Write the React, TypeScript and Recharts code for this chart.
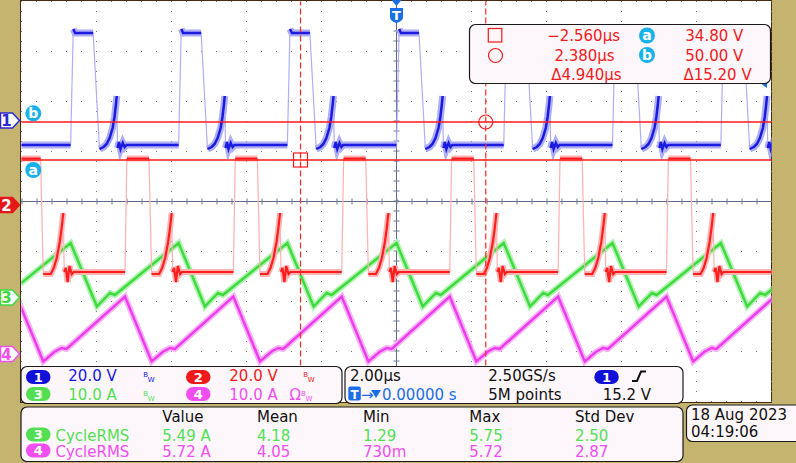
import React from "react";
import {
  ComposedChart,
  Line,
  XAxis,
  YAxis,
  CartesianGrid,
  ReferenceLine,
  ReferenceDot,
} from "recharts";

// Horizontal axis in µs (2.00 µs/div, trigger at 0); vertical in screen divisions (0 = centre line).
const TIME_TICKS = [-10, -8, -6, -4, -2, 0, 2, 4, 6, 8, 10];
const DIV_TICKS = [-4, -3, -2, -1, 0, 1, 2, 3, 4];

// rising edges (µs)
const CH1_EDGES = [-11.58, -8.69, -5.81, -2.91, 0, 2.86, 5.76, 8.65, 11.54];
const CH2_EDGES = [-13.02, -10.13, -7.24, -4.35, -1.46, 1.42, 4.31, 7.2, 10.09];

// one switching period: [µs after edge, level in div, 1 = noisy segment follows / 0 = fast edge follows]
const CH1_SHAPE = [
  [0, 1.13, 0],
  [0.07, 3.45, 1],
  [0.12, 3.37, 1],
  [0.6, 3.37, 0],
  [0.77, 1.05, 1],
  [0.88, 1.09, 1],
  [0.96, 1.15, 1],
  [1.04, 1.27, 1],
  [1.12, 1.47, 1],
  [1.17, 1.69, 1],
  [1.21, 1.95, 1],
  [1.23, 2.11, 0],
  [1.25, 1.07, 1],
  [1.29, 1.19, 1],
  [1.33, 1.05, 1],
  [1.39, 1.17, 1],
  [1.44, 1.09, 1],
  [1.49, 1.13, 1],
];
const CH2_SHAPE = [
  [0, -1.41, 0],
  [0.05, 0.86, 1],
  [0.64, 0.86, 0],
  [0.71, -1.45, 1],
  [0.91, -1.45, 1],
  [0.99, -1.33, 1],
  [1.07, -1.13, 1],
  [1.15, -0.81, 1],
  [1.2, -0.53, 1],
  [1.245, -0.23, 0],
  [1.27, -1.41, 1],
  [1.31, -1.33, 1],
  [1.36, -1.61, 1],
  [1.41, -1.29, 1],
  [1.47, -1.45, 1],
  [1.52, -1.41, 1],
];
// inductor currents, relative to the ch1 / ch2 edges
const CH3_SHAPE = [
  [0, -0.83],
  [0.7, -2.1],
  [1.05, -1.83],
  [1.18, -1.87],
];
const CH4_SHAPE = [
  [0, -1.9],
  [0.71, -3.2],
  [1.02, -3.0],
  [1.2, -2.93],
  [1.33, -2.95],
];

// cursors
const CURSOR_T1 = -2.56;
const CURSOR_T2 = 2.38;
const CURSOR_A = 0.83;
const CURSOR_B = 1.59;

type Pt = { t: number; v: number | null };

function pulseTrain(edges: number[], shape: number[][]) {
  const full: Pt[] = [];
  const body: Pt[] = [];
  edges.forEach((t0) => {
    shape.forEach(([dt, v, noisy], i) => {
      full.push({ t: t0 + dt, v });
      body.push({ t: t0 + dt, v });
      if (!noisy) body.push({ t: t0 + (dt + shape[i + 1][0]) / 2, v: null });
    });
  });
  return { full, body };
}

function ramp(edges: number[], shape: number[][]): Pt[] {
  return edges.flatMap((t0) => shape.map(([dt, v]) => ({ t: t0 + dt, v })));
}

const ch1 = pulseTrain(CH1_EDGES, CH1_SHAPE);
const ch2 = pulseTrain(CH2_EDGES, CH2_SHAPE);
const ch3 = ramp(CH1_EDGES, CH3_SHAPE);
const ch4 = ramp(CH2_EDGES, CH4_SHAPE);

const FONT = "'DejaVu Sans', sans-serif";
const BLUE = "#1616e4";
const RED = "#f01a1a";
const GREEN = "#52df52";
const MAG = "#f04ef0";
const CYAN = "#19b1ea";
const TRIG = "#1a6ee6";
const PANEL = "#fdf6fb";

const lineProps = { dot: false, activeDot: false, isAnimationActive: false, type: "linear" as const, dataKey: "v" };

function Pill({ x, y, fill, label }: { x: number; y: number; fill: string; label: string }) {
  return (
    <g>
      <rect x={x} y={y} width={24.5} height={14} rx={7} fill={fill} />
      <text x={x + 12.25} y={y + 11.5} textAnchor="middle" fill="#fff" fontSize={13} fontWeight="bold" fontFamily={FONT}>
        {label}
      </text>
    </g>
  );
}

function ChMarker({ y, label, fill, stroke, color }: { y: number; label: string; fill: string; stroke: string; color: string }) {
  return (
    <g>
      <polygon
        points={`0.5,${y - 7.5} 12.5,${y - 7.5} 19.5,${y} 12.5,${y + 7.5} 0.5,${y + 7.5}`}
        fill={fill}
        stroke={stroke}
        strokeWidth={1.5}
      />
      <text x={6.5} y={y + 5.5} textAnchor="middle" fill={color} fontSize={15} fontWeight="bold" fontFamily={FONT}>
        {label}
      </text>
    </g>
  );
}

function CursorTag({ cx, cy, label }: { cx: number; cy: number; label: string }) {
  return (
    <g>
      <circle cx={cx} cy={cy} r={8} fill={CYAN} />
      <text x={cx} y={cy + 4.5} textAnchor="middle" fill="#fff" fontSize={14} fontWeight="bold" fontFamily={FONT}>
        {label}
      </text>
    </g>
  );
}

// bandwidth-limit glyph, optionally preceded by Ω
function Bw({ x, y, color, ohm }: { x: number; y: number; color: string; ohm?: boolean }) {
  return (
    <text x={x} y={y} fill={color} fontFamily={FONT} fontSize={15}>
      {ohm ? "Ω" : ""}
      <tspan fontSize={7} dy={-4}>B</tspan>
      <tspan fontSize={7} dy={5}>W</tspan>
    </text>
  );
}

function T({ x, y, c, children, anchor }: { x: number; y: number; c: string; children: React.ReactNode; anchor?: "start" | "end" | "middle" }) {
  return (
    <text x={x} y={y} fill={c} fontSize={15} fontFamily={FONT} textAnchor={anchor ?? "start"}>
      {children}
    </text>
  );
}

export default function App() {
  return (
    <div style={{ position: "absolute", left: 0, top: 0, width: 796, height: 463, background: "#c5b470", overflow: "hidden" }}>
      <div
        style={{
          position: "absolute",
          left: 20,
          top: 0,
          width: 752,
          height: 403,
          boxSizing: "border-box",
          border: "1px solid #4a2a10",
          background: "#ffffff",
        }}
      />
      <div style={{ position: "absolute", left: 0, top: 0 }}>
        <ComposedChart width={796} height={463} margin={{ top: 1.5, right: 24.5, bottom: 61.5, left: 21.5 }}>
          <XAxis type="number" dataKey="t" domain={[-10, 10]} hide allowDataOverflow />
          <YAxis type="number" domain={[-4, 4]} hide allowDataOverflow />
          <CartesianGrid
            vertical={false}
            horizontalValues={DIV_TICKS}
            stroke="#6b7894"
            strokeDasharray="1 14"
            strokeDashoffset={0.5}
          />
          <CartesianGrid
            horizontal={false}
            verticalValues={TIME_TICKS}
            stroke="#6b7894"
            strokeDasharray="1 9"
            strokeDashoffset={0.5}
          />
          <ReferenceLine x={0} stroke="#5d6b8e" strokeWidth={1} />
          <ReferenceLine y={0} stroke="#5d6b8e" strokeWidth={1} />
          <ReferenceLine x={0} stroke="#6b7894" strokeWidth={6} strokeDasharray="1 9" />
          <ReferenceLine y={0} stroke="#6b7894" strokeWidth={6} strokeDasharray="1 14" />

          <Line {...lineProps} data={ch3} stroke="#b6f2b6" strokeWidth={6} />
          <Line {...lineProps} data={ch3} stroke="#3edc3e" strokeWidth={2.5} />
          <Line {...lineProps} data={ch4} stroke="#f6b6f6" strokeWidth={6} />
          <Line {...lineProps} data={ch4} stroke="#ee3cee" strokeWidth={2.5} />

          <Line {...lineProps} data={ch1.full} stroke="#aeaef6" strokeWidth={1.2} />
          <Line {...lineProps} data={ch1.body} stroke="#aeaef6" strokeWidth={7} />
          <Line {...lineProps} data={ch1.body} stroke="#1a1ae0" strokeWidth={2.5} />

          <Line {...lineProps} data={ch2.full} stroke="#ffb0b0" strokeWidth={1.2} />
          <Line {...lineProps} data={ch2.body} stroke="#ffb4b4" strokeWidth={6} />
          <Line {...lineProps} data={ch2.body} stroke="#ff1e1e" strokeWidth={2.2} />

          <ReferenceLine y={CURSOR_B} stroke="#ff1a1a" strokeWidth={1.3} />
          <ReferenceLine y={CURSOR_A} stroke="#ff1a1a" strokeWidth={1.3} />
          <ReferenceLine x={CURSOR_T1} stroke="#ff2a2a" strokeWidth={1.2} strokeDasharray="6 3" />
          <ReferenceLine x={CURSOR_T2} stroke="#ff2a2a" strokeWidth={1.2} strokeDasharray="6 3" />
          <ReferenceDot
            x={CURSOR_T1}
            y={CURSOR_A}
            shape={(p: any) => (
              <rect x={p.cx - 7} y={p.cy - 7} width={14} height={14} fill="none" stroke="#ff1a1a" strokeWidth={1.2} />
            )}
          />
          <ReferenceDot x={CURSOR_T2} y={CURSOR_B} r={7} fill="none" stroke="#ff1a1a" strokeWidth={1.2} />
        </ComposedChart>
      </div>

      <svg width={796} height={463} style={{ position: "absolute", left: 0, top: 0, pointerEvents: "none" }}>
        {/* trigger position marker */}
        <polygon points="391.5,0 401.5,0 396.5,6" fill={TRIG} />
        <path d="M390,8 H403 V17 Q403,21 396.5,23 Q390,21 390,17 Z" fill={TRIG} />
        <text x={396.5} y={19.5} textAnchor="middle" fill="#fff" fontSize={13} fontWeight="bold" fontFamily={FONT}>
          T
        </text>
        <polygon points="760,83 767,83 767,88" fill={TRIG} />

        {/* channel ground markers */}
        <ChMarker y={120.5} label="1" fill="#ffffff" stroke="#2a2ad0" color="#2a2ad0" />
        <ChMarker y={205} label="2" fill="#e41818" stroke="#e41818" color="#ffffff" />
        <ChMarker y={297.5} label="3" fill="#ffffff" stroke="#3fd83f" color="#3fd83f" />
        <ChMarker y={354} label="4" fill="#ffffff" stroke="#ee50ee" color="#ee50ee" />

        <CursorTag cx={33.3} cy={113.3} label="b" />
        <CursorTag cx={33.3} cy={170} label="a" />

        {/* cursor readout */}
        <rect x={469.5} y={24.5} width={301} height={59} rx={6} fill={PANEL} stroke="#1a1a1a" strokeWidth={1.2} />
        <rect x={488.3} y={28.5} width={13.5} height={13.5} fill="none" stroke={RED} strokeWidth={1.2} />
        <circle cx={495.5} cy={55.5} r={7} fill="none" stroke={RED} strokeWidth={1.2} />
        <T x={620} y={41} c={RED} anchor="end">−2.560µs</T>
        <T x={614.7} y={60.5} c={RED} anchor="end">2.380µs</T>
        <T x={621.7} y={79.5} c={RED} anchor="end">Δ4.940µs</T>
        <CursorTag cx={647} cy={35.5} label="a" />
        <CursorTag cx={647} cy={55} label="b" />
        <T x={743.3} y={41} c={RED} anchor="end">34.80 V</T>
        <T x={743.3} y={60.5} c={RED} anchor="end">50.00 V</T>
        <T x={751.7} y={79.5} c={RED} anchor="end">Δ15.20 V</T>

        {/* vertical settings */}
        <rect x={21} y={366.5} width={321} height={37} rx={6} fill={PANEL} stroke="#1a1a1a" strokeWidth={1.2} />
        <Pill x={26} y={370} fill="#1010d8" label="1" />
        <T x={68.3} y={381} c={BLUE}>20.0 V</T>
        <Bw x={143.3} y={381} color={BLUE} />
        <Pill x={186} y={370} fill="#f01a1a" label="2" />
        <T x={229.3} y={381} c={RED}>20.0 V</T>
        <Bw x={303.3} y={381} color={RED} />
        <Pill x={26} y={387} fill={GREEN} label="3" />
        <T x={68.3} y={399.5} c={GREEN}>10.0 A</T>
        <Bw x={143.3} y={399.5} color={GREEN} />
        <Pill x={186} y={387} fill={MAG} label="4" />
        <T x={229.3} y={399.5} c={MAG}>10.0 A</T>
        <Bw x={289.5} y={399.5} color={MAG} ohm />

        {/* horizontal / trigger settings */}
        <rect x={345} y={366.5} width={338} height={37} rx={6} fill={PANEL} stroke="#1a1a1a" strokeWidth={1.2} />
        <T x={350} y={381} c="#111">2.00µs</T>
        <T x={488.3} y={381} c="#111">2.50GS/s</T>
        <Pill x={594.3} y={370} fill="#1010d8" label="1" />
        <path d="M632,381 H637 L641,371.5 H646" fill="none" stroke="#111" strokeWidth={2} />
        <rect x={348.3} y={386.5} width={12.5} height={14} rx={2} fill={TRIG} />
        <text x={354.5} y={398.5} textAnchor="middle" fill="#fff" fontSize={12} fontWeight="bold" fontFamily={FONT}>
          T
        </text>
        <T x={361} y={399.5} c={TRIG}>→</T>
        <polygon points="371,390 381,390 376,398" fill={TRIG} />
        <T x={382} y={399.5} c={TRIG}>0.00000 s</T>
        <T x={488.3} y={399.5} c="#111">5M points</T>
        <T x={602.7} y={399.5} c="#111">15.2 V</T>

        {/* measurements */}
        <rect x={21} y={407} width={662} height={54.5} rx={6} fill={PANEL} stroke="#1a1a1a" strokeWidth={1.2} />
        <T x={162.3} y={422} c="#111">Value</T>
        <T x={257} y={422} c="#111">Mean</T>
        <T x={363} y={422} c="#111">Min</T>
        <T x={469.3} y={422} c="#111">Max</T>
        <T x={575} y={422} c="#111">Std Dev</T>
        <Pill x={26} y={427.5} fill={GREEN} label="3" />
        <T x={55.5} y={440.5} c={GREEN}>CycleRMS</T>
        <T x={162.3} y={440.5} c={GREEN}>5.49 A</T>
        <T x={257} y={440.5} c={GREEN}>4.18</T>
        <T x={363} y={440.5} c={GREEN}>1.29</T>
        <T x={469.3} y={440.5} c={GREEN}>5.75</T>
        <T x={575} y={440.5} c={GREEN}>2.50</T>
        <Pill x={26} y={443.5} fill={MAG} label="4" />
        <T x={55.5} y={457} c={MAG}>CycleRMS</T>
        <T x={162.3} y={457} c={MAG}>5.72 A</T>
        <T x={257} y={457} c={MAG}>4.05</T>
        <T x={363} y={457} c={MAG}>730m</T>
        <T x={469.3} y={457} c={MAG}>5.72</T>
        <T x={575} y={457} c={MAG}>2.87</T>

        {/* date */}
        <rect x={686.5} y={405} width={120} height={36.5} rx={6} fill={PANEL} stroke="#1a1a1a" strokeWidth={1.2} />
        <T x={691} y={419.5} c="#111">18 Aug 2023</T>
        <T x={691} y={437} c="#111">04:19:06</T>
      </svg>
    </div>
  );
}
